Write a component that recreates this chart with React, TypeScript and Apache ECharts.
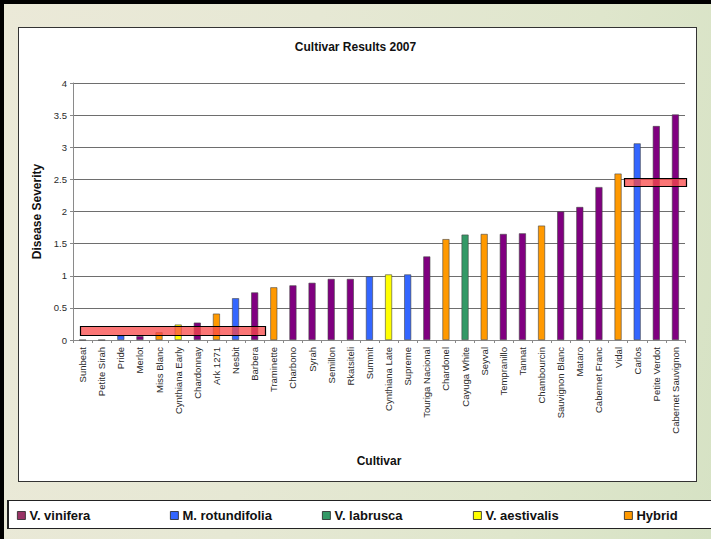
import React, { useEffect, useRef } from "react";
import * as echarts from "echarts";

// Cultivars in plotted order, with their disease severity rating and species group
const cultivars = [
  "Sunbeat", "Petite Sirah", "Pride", "Merlot", "Miss Blanc", "Cynthiana Early",
  "Chardonnay", "Ark 1271", "Nesbit", "Barbera", "Traminette", "Charbono",
  "Syrah", "Semillon", "Rkatsiteli", "Summit", "Cynthiana Late", "Supreme",
  "Touriga Nacional", "Chardonel", "Cayuga White", "Seyval", "Tempranillo", "Tannat",
  "Chambourcin", "Sauvignon Blanc", "Mataro", "Cabernet Franc", "Vidal", "Carlos",
  "Petite Verdot", "Cabernet Sauvignon",
];

const severity = [
  0, 0, 0.07, 0.06, 0.12, 0.24,
  0.27, 0.41, 0.65, 0.74, 0.82, 0.85,
  0.89, 0.95, 0.95, 0.99, 1.02, 1.02,
  1.3, 1.57, 1.64, 1.65, 1.65, 1.66,
  1.78, 2.0, 2.07, 2.38, 2.59, 3.06,
  3.33, 3.51,
];

const species = [
  "V. labrusca", "V. vinifera", "M. rotundifolia", "V. vinifera", "Hybrid", "V. aestivalis",
  "V. vinifera", "Hybrid", "M. rotundifolia", "V. vinifera", "Hybrid", "V. vinifera",
  "V. vinifera", "V. vinifera", "V. vinifera", "M. rotundifolia", "V. aestivalis", "M. rotundifolia",
  "V. vinifera", "Hybrid", "V. labrusca", "Hybrid", "V. vinifera", "V. vinifera",
  "Hybrid", "V. vinifera", "V. vinifera", "V. vinifera", "Hybrid", "M. rotundifolia",
  "V. vinifera", "V. vinifera",
];

const groups = ["V. vinifera", "M. rotundifolia", "V. labrusca", "V. aestivalis", "Hybrid"];
const barColors = ["#800080", "#3366ff", "#339966", "#ffff00", "#ff9900"];
const legendColors = ["#993366", "#3366ff", "#339966", "#ffff00", "#ff9900"];
const legendLeft = [12, 165, 317, 468, 619];

const FONT = "'Liberation Sans', Arial, Helvetica, sans-serif";

export default function App() {
  const ref = useRef<HTMLDivElement>(null);

  useEffect(() => {
    if (!ref.current) return;
    const chart = echarts.init(ref.current, null, { renderer: "svg" });

    const series = groups.map((g, gi) => ({
      name: g,
      type: "bar",
      barWidth: 7,
      barGap: "-100%",
      itemStyle: { color: barColors[gi], borderColor: "#444", borderWidth: 0.6 },
      data: severity.map((v, i) => (species[i] === g ? v : null)),
    }));

    chart.setOption({
      animation: false,
      backgroundColor: "transparent",
      textStyle: { fontFamily: FONT },
      title: {
        text: "Cultivar Results 2007",
        left: "center",
        top: 36,
        textStyle: { fontFamily: FONT, fontSize: 12, fontWeight: "bold", color: "#111" },
      },
      legend: groups.map((g, gi) => ({
        left: legendLeft[gi],
        top: 504,
        icon: "rect",
        itemWidth: 8,
        itemHeight: 8,
        itemGap: 4,
        selectedMode: false,
        data: [{ name: g, itemStyle: { color: legendColors[gi], borderColor: "#222", borderWidth: 0.8 } }],
        textStyle: { fontFamily: FONT, fontSize: 13, fontWeight: "bold", color: "#111", padding: [0, 0, 0, -1] },
      })),
      grid: { left: 73, right: 26, top: 83, bottom: 199, containLabel: false },
      xAxis: {
        type: "category",
        data: cultivars,
        name: "Cultivar",
        nameLocation: "middle",
        nameGap: 115,
        nameTextStyle: { fontFamily: FONT, fontSize: 12, fontWeight: "bold", color: "#111" },
        axisLine: { lineStyle: { color: "#8a8a8a", width: 1 } },
        axisTick: { show: true, length: 3, lineStyle: { color: "#8a8a8a" } },
        axisLabel: {
          rotate: 90,
          interval: 0,
          margin: 7,
          fontFamily: FONT,
          fontSize: 9.5,
          color: "#2a2a2a",
        },
      },
      yAxis: {
        type: "value",
        min: 0,
        max: 4,
        interval: 0.5,
        name: "Disease Severity",
        nameLocation: "middle",
        nameGap: 25,
        nameTextStyle: { fontFamily: FONT, fontSize: 12, fontWeight: "bold", color: "#111" },
        axisLine: { show: true, lineStyle: { color: "#8a8a8a", width: 1 } },
        axisTick: { show: true, length: 3, lineStyle: { color: "#8a8a8a" } },
        axisLabel: { margin: 6, fontFamily: FONT, fontSize: 9.5, color: "#2a2a2a" },
        splitLine: { lineStyle: { color: "#6e6e6e", width: 1 } },
      },
      series,
      graphic: [
        {
          type: "rect",
          z: 100,
          shape: { x: 80.5, y: 326.5, width: 185, height: 9 },
          style: { fill: "rgba(250,72,72,0.75)", stroke: "#000", lineWidth: 1.2 },
        },
        {
          type: "rect",
          z: 100,
          shape: { x: 624.5, y: 178.5, width: 62, height: 8 },
          style: { fill: "rgba(250,72,72,0.75)", stroke: "#000", lineWidth: 1.2 },
        },
      ],
    });

    return () => chart.dispose();
  }, []);

  return (
    <div
      style={{
        position: "fixed",
        left: 0,
        top: 0,
        width: 711,
        height: 539,
        overflow: "hidden",
        background:
          "linear-gradient(100deg, #ebe9d8 0%, #e6e8d4 40%, #dfe6cc 75%, #d6e2c4 100%)",
      }}
    >
      {/* slide frame edges */}
      <div style={{ position: "absolute", left: 0, top: 0, width: 711, height: 4, background: "#000" }} />
      <div style={{ position: "absolute", left: 0, top: 0, width: 4, height: 539, background: "#000" }} />
      {/* chart area box */}
      <div
        style={{
          position: "absolute",
          left: 18,
          top: 27,
          width: 677,
          height: 453,
          background: "#fff",
          border: "1px solid #333",
        }}
      />
      {/* legend box */}
      <div
        style={{
          position: "absolute",
          left: 7,
          top: 500,
          width: 720,
          height: 27,
          background: "#fff",
          border: "1px solid #222",
          borderLeftWidth: 2,
        }}
      />
      <div ref={ref} style={{ position: "absolute", left: 0, top: 0, width: 711, height: 539 }} />
    </div>
  );
}
